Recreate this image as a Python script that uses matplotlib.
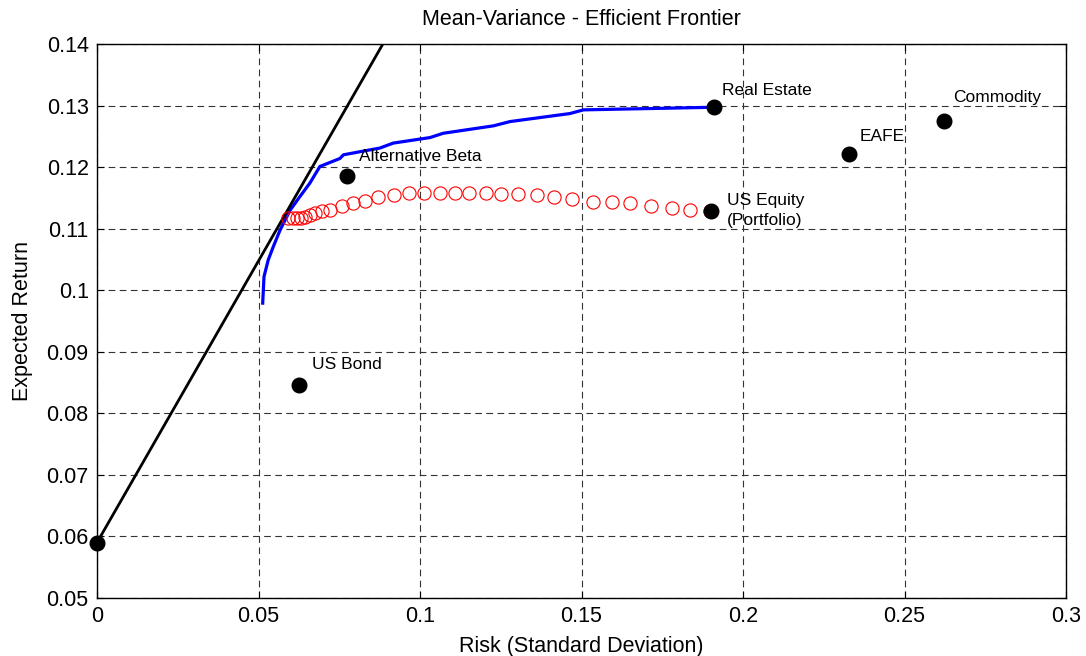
import matplotlib
matplotlib.use("Agg")
import matplotlib.pyplot as plt

plt.rcParams['font.family'] = ['Liberation Sans', 'DejaVu Sans']

# Efficient frontier (blue)
frontier_risk = [0.0513, 0.0517, 0.0530, 0.0546, 0.0567, 0.0598, 0.0628, 0.0659, 0.0690,
                 0.0752, 0.0763, 0.0876, 0.0917, 0.1031, 0.1072, 0.1227, 0.1279, 0.1464,
                 0.1506, 0.1888, 0.1910]
frontier_ret = [0.0979, 0.1022, 0.1049, 0.1071, 0.1098, 0.1130, 0.1152, 0.1174, 0.1201,
                0.1214, 0.1220, 0.1231, 0.1239, 0.1248, 0.1255, 0.1267, 0.1274, 0.1287,
                0.1293, 0.1297, 0.1298]

# Portfolio path (red circles)
port_risk = [0.0592, 0.0606, 0.0618, 0.0631, 0.0644, 0.0659, 0.0675, 0.0696, 0.0721, 0.0758,
             0.0794, 0.0830, 0.0871, 0.0920, 0.0967, 0.1013, 0.1062, 0.1108, 0.1152, 0.1204,
             0.1252, 0.1303, 0.1361, 0.1414, 0.1472, 0.1537, 0.1593, 0.1651, 0.1715, 0.1779,
             0.1837, 0.1898]
port_ret = [0.1117, 0.1117, 0.1117, 0.1117, 0.1119, 0.1122, 0.1125, 0.1128, 0.1130, 0.1137,
            0.1142, 0.1145, 0.1151, 0.1154, 0.1158, 0.1158, 0.1158, 0.1158, 0.1158, 0.1158,
            0.1156, 0.1156, 0.1154, 0.1151, 0.1148, 0.1144, 0.1144, 0.1141, 0.1137, 0.1134,
            0.1131, 0.1128]

# Assets
asset_names = ["Risk Free", "US Bond", "Alternative Beta", "Real Estate", "US Equity\n(Portfolio)", "EAFE", "Commodity"]
asset_risk = [0.0, 0.0625, 0.0774, 0.1910, 0.1901, 0.2328, 0.2623]
asset_ret = [0.059, 0.0846, 0.1186, 0.1298, 0.1128, 0.1222, 0.1275]
label_x = [None, 0.0666, 0.0812, 0.1934, 0.1949, 0.2360, 0.2649]
label_y = [None, 0.0880, 0.1217, 0.1324, 0.1130, 0.1249, 0.1313]

# Capital market line
cml_x = [0.0, 0.0885]
cml_slope = (0.14 - 0.059) / 0.0885

xticks = [0, 0.05, 0.1, 0.15, 0.2, 0.25, 0.3]
xticklabels = ["0", "0.05", "0.1", "0.15", "0.2", "0.25", "0.3"]
yticks = [0.05, 0.06, 0.07, 0.08, 0.09, 0.1, 0.11, 0.12, 0.13, 0.14]
yticklabels = ["0.05", "0.06", "0.07", "0.08", "0.09", "0.1", "0.11", "0.12", "0.13", "0.14"]

fig = plt.figure(figsize=(10.86, 6.56), dpi=100)
ax = fig.add_axes([97/1086, 1 - 598/656, (1066-97)/1086, (598-44)/656])

ax.plot(frontier_risk, frontier_ret, color='#0000ff', lw=2.3, zorder=3)
ax.plot(port_risk, port_ret, linestyle='none', marker='o', markersize=9.5,
        markerfacecolor='none', markeredgecolor='#ff0000', markeredgewidth=0.8, zorder=4)
ax.plot(cml_x, [0.059 + cml_slope * v for v in cml_x], color='black', lw=2.0, zorder=3)
ax.plot(asset_risk, asset_ret, linestyle='none', marker='o', markersize=10.5,
        color='black', zorder=5, clip_on=False)

for name, lx, ly in zip(asset_names, label_x, label_y):
    if lx is None:
        continue
    ax.text(lx, ly, name, fontsize=12.5, ha='left', va='center', linespacing=1.4, zorder=6)

ax.set_xlim(0, 0.3)
ax.set_ylim(0.05, 0.14)
ax.set_xticks(xticks)
ax.set_xticklabels(xticklabels)
ax.set_yticks(yticks)
ax.set_yticklabels(yticklabels)
ax.tick_params(direction='in', top=True, right=True, length=5, labelsize=15.5, pad=6)
ax.grid(True, color='#333333', linestyle=(0, (6, 4)), lw=0.8)
for s in ax.spines.values():
    s.set_linewidth(1.0)
    s.set_color('black')

ax.set_title("Mean-Variance - Efficient Frontier", fontsize=15.5, pad=14)
ax.set_xlabel("Risk (Standard Deviation)", fontsize=15.5, labelpad=6)
ax.set_ylabel("Expected Return", fontsize=15.5, labelpad=10)

fig.savefig("out.png", dpi=100)
